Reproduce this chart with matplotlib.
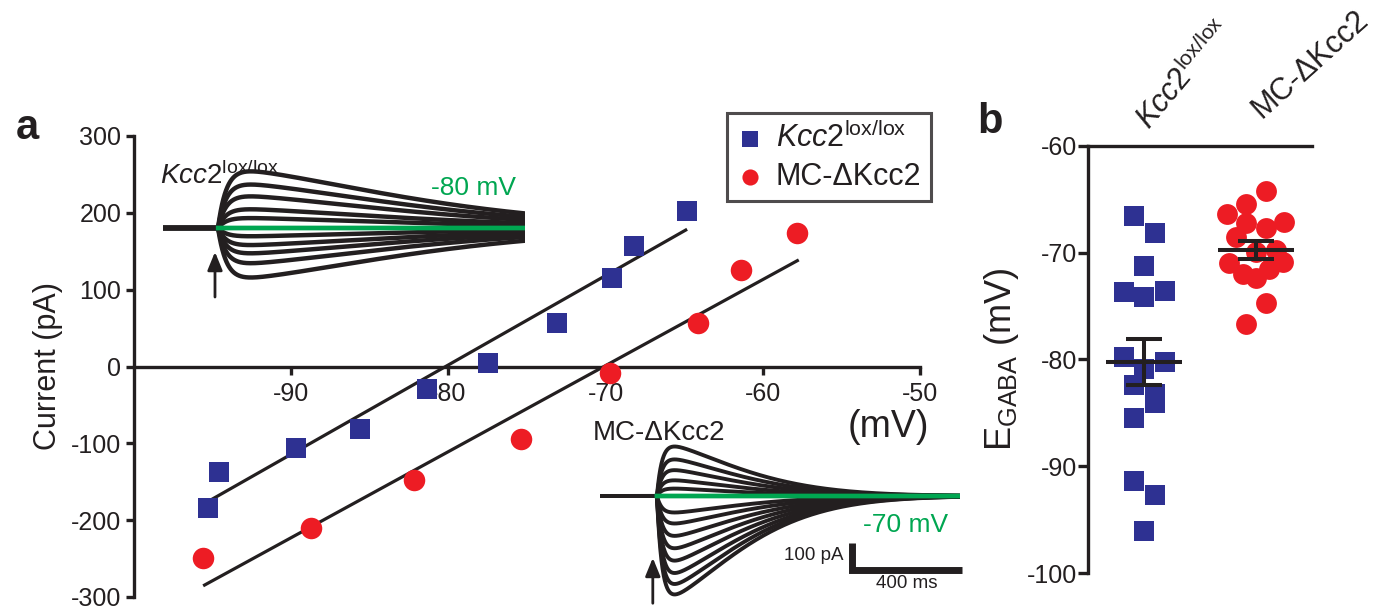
import numpy as np
import matplotlib
matplotlib.use("Agg")
import matplotlib.pyplot as plt

plt.rcParams['font.family'] = ['Liberation Sans', 'DejaVu Sans']
plt.rcParams['mathtext.fontset'] = 'custom'
plt.rcParams['mathtext.rm'] = 'Liberation Sans'
plt.rcParams['mathtext.it'] = 'Liberation Sans:italic'
plt.rcParams['mathtext.bf'] = 'Liberation Sans:bold'
plt.rcParams['axes.unicode_minus'] = False

# ---- data: panel a, I-V relation ----
kcc2_v = [-95.3, -94.6, -89.7, -85.6, -81.35, -77.5, -73.1, -69.6, -68.2, -64.8]
kcc2_i = [-184, -137, -106, -81, -29, 5, 56, 115, 157, 203]
mc_v = [-95.6, -88.7, -82.2, -75.4, -69.7, -64.1, -61.4, -57.8]
mc_i = [-249, -210, -148, -94, -8, 57, 125, 174]
# linear fits: slope (pA/mV), reversal (mV), drawn range (mV)
kcc2_fit = (11.63, -80.17, -95.4, -64.9)
mc_fit = (11.2, -70.1, -95.5, -57.8)

# ---- data: example traces (peak amplitudes in pA) ----
kcc2_trace_amps = [206, 158, 115, 68, 36, -30, -62, -92, -128, -180]
mc_trace_amps = [180, 133, 94, 57, 27, -60, -100, -145, -190, -235, -280, -320, -358]
kcc2_kinetics = (30, 880, 1.5)   # rise tau, decay tau (ms), stretch
mc_kinetics = (18, 385, 1.5)

# ---- data: panel b, E_GABA per cell ----
groups = ['$\\mathit{Kcc2}^{\\mathrm{lox/lox}}$', 'MC-ΔKcc2']
kcc2_egaba = [-66.6, -68.2, -71.3, -73.7, -74.2, -73.6, -79.8, -80.9, -80.2,
              -82.4, -83.2, -84.1, -85.5, -91.4, -92.7, -96.0]
kcc2_jit = [-0.09, 0.095, 0, -0.18, 0, 0.19, -0.18, 0, 0.19, -0.09, 0.095,
            0.095, -0.09, -0.09, 0.095, 0]
mc_egaba = [-64.2, -65.45, -66.4, -67.2, -67.1, -67.7, -68.5, -69.9, -69.8,
            -71.0, -70.9, -72.0, -71.5, -72.35, -74.75, -76.7]
mc_jit = [0.09, -0.09, -0.255, -0.09, 0.25, 0.085, -0.18, 0, 0.18, -0.245,
          0.245, -0.12, 0.12, 0, 0.09, -0.09]

BLUE = '#2e3192'
RED = '#ed1c24'
GREEN = '#00a651'
BLACK = '#231f20'

W, H = 1383, 607
fig = plt.figure(figsize=(W / 100, H / 100), dpi=100)


def px_box(x0, y0, x1, y1):
    return [x0 / W, 1 - y1 / H, (x1 - x0) / W, (y1 - y0) / H]


def psc(t, amp, rise, decay, p):
    tt = np.clip(t, 0, None)
    w = (1 - np.exp(-tt / rise)) * np.exp(-(tt / decay) ** p)
    return amp * w / w.max()


ARROW = dict(arrowstyle='-|>,head_width=0.45,head_length=1.1', color=BLACK,
             lw=2.0, shrinkA=0, shrinkB=0)

# ================= panel a =================
ax = fig.add_axes(px_box(133.8, 136, 920, 597))
ax.set_xlim(-100, -50)
ax.set_ylim(-300, 300)
for s in ['top', 'right']:
    ax.spines[s].set_visible(False)
ax.spines['bottom'].set_position(('data', 0))
ax.spines['bottom'].set_bounds(-100, -50)
for s in ['left', 'bottom']:
    ax.spines[s].set_linewidth(2.4)
    ax.spines[s].set_color(BLACK)
ax.set_xticks([-90, -80, -70, -60, -50])
ax.set_yticks(range(-300, 301, 100))
ax.tick_params(axis='both', width=2.4, length=6, color=BLACK, labelsize=18,
               labelcolor=BLACK)
ax.tick_params(axis='x', pad=5)
ax.tick_params(axis='y', pad=3)
ax.set_ylabel('Current (pA)', fontsize=22, color=BLACK, labelpad=6)
ax.text(-52, -79, '(mV)', fontsize=27, color=BLACK, ha='center', va='center')

for fit in (kcc2_fit, mc_fit):
    slope, erev, v0, v1 = fit
    vv = np.array([v0, v1])
    ax.plot(vv, slope * (vv - erev), color=BLACK, lw=2.3, zorder=2.6)

ax.scatter(kcc2_v, kcc2_i, marker='s', s=210, color=BLUE, linewidths=0,
           zorder=3, label=groups[0])
ax.scatter(mc_v, mc_i, marker='o', s=240, color=RED, linewidths=0,
           zorder=3, label=groups[1])

leg = ax.legend(loc='upper left', bbox_to_anchor=(727 / W, 1 - 113 / H),
                bbox_transform=fig.transFigure, fontsize=22, frameon=True,
                fancybox=False, edgecolor=BLACK, scatterpoints=1,
                borderpad=0.3, labelspacing=0.25, handlelength=0.9,
                handletextpad=0.4, borderaxespad=0, markerscale=0.75)
leg.get_frame().set_linewidth(2.2)
for t in leg.get_texts():
    t.set_color(BLACK)

# ---- inset traces: Kcc2 lox/lox ----
ins1 = fig.add_axes(px_box(163, 159.25, 525, 296.75))
ins1.set_xlim(-200, 1116)
ins1.set_ylim(-250, 250)
ins1.axis('off')
t1 = np.linspace(-200, 1116, 1600)
for a in kcc2_trace_amps:
    ins1.plot(t1, psc(t1, a, *kcc2_kinetics), color=BLACK, lw=3.2)
ins1.plot(t1[t1 >= 0], np.zeros((t1 >= 0).sum()), color=GREEN, lw=3.4)
ins1.annotate('', xy=(-11, -87), xytext=(-11, -251), arrowprops=ARROW,
              annotation_clip=False)
ins1.text(-210, 160, '$\\mathit{Kcc2}^{\\mathrm{lox/lox}}$', fontsize=20,
          color=BLACK, ha='left', va='baseline')
ins1.text(1085, 145, '-80 mV', fontsize=19, color=GREEN, ha='right',
          va='center')

# ---- inset traces: MC-dKcc2 ----
ins2 = fig.add_axes(px_box(600, 427.25, 960, 606))
ins2.set_xlim(-207, 1102)
ins2.set_ylim(-400, 250)
ins2.axis('off')
t2 = np.linspace(-207, 1102, 1600)
for a in mc_trace_amps:
    ins2.plot(t2, psc(t2, a, *mc_kinetics), color=BLACK, lw=2.8)
ins2.plot(t2[t2 >= 0], np.zeros((t2 >= 0).sum()), color=GREEN, lw=3.4)
ins2.annotate('', xy=(-15, -225), xytext=(-15, -390), arrowprops=ARROW,
              annotation_clip=False)
ins2.text(-233, 204, 'MC-ΔKcc2', fontsize=20, color=BLACK, ha='left',
          va='baseline')
ins2.text(1060, -105, '-70 mV', fontsize=19, color=GREEN, ha='right',
          va='center')
# scale bar 100 pA / 400 ms
ins2.plot([708, 708, 1108], [-170, -270, -270], color=BLACK, lw=5,
          solid_capstyle='butt', solid_joinstyle='miter', clip_on=False)
ins2.text(680, -218, '100 pA', fontsize=13.5, color=BLACK, ha='right',
          va='center')
ins2.text(908, -318, '400 ms', fontsize=13.5, color=BLACK, ha='center',
          va='center', clip_on=False)

# ================= panel b =================
bx = fig.add_axes(px_box(1088, 145.7, 1312, 573.3))
bx.set_xlim(-0.5, 1.5)
bx.set_ylim(-100, -60)
for s in ['bottom', 'right']:
    bx.spines[s].set_visible(False)
for s in ['left', 'top']:
    bx.spines[s].set_linewidth(2.4)
    bx.spines[s].set_color(BLACK)
bx.set_xticks([])
bx.set_yticks(range(-100, -59, 10))
bx.tick_params(axis='y', width=2.4, length=7, color=BLACK, labelsize=18,
               labelcolor=BLACK, pad=1)
bx.set_ylabel('E$_{\\mathrm{GABA}}$ (mV)', fontsize=26, color=BLACK,
              labelpad=4)

bx.scatter(np.array(kcc2_jit), kcc2_egaba, marker='s', s=215, color=BLUE,
           linewidths=0, zorder=3, clip_on=False)
bx.scatter(1 + np.array(mc_jit), mc_egaba, marker='o', s=225, color=RED,
           linewidths=0, zorder=3, clip_on=False)

for i, vals in enumerate([kcc2_egaba, mc_egaba]):
    vals = np.array(vals)
    m = vals.mean()
    sem = vals.std(ddof=1) / np.sqrt(len(vals))
    bx.hlines(m, i - 0.335, i + 0.335, color=BLACK, lw=2.9, zorder=4)
    bx.errorbar(i, m, yerr=sem, fmt='none', ecolor=BLACK, elinewidth=2.9,
                capsize=13, capthick=2.9, zorder=4)

bx.annotate(groups[0], xy=(0.05, 1), xycoords=bx.get_xaxis_transform(),
            xytext=(0, 11), textcoords='offset points', rotation=50,
            rotation_mode='anchor', ha='left', va='baseline', fontsize=22,
            color=BLACK)
bx.annotate(groups[1], xy=(1.05, 1), xycoords=bx.get_xaxis_transform(),
            xytext=(0, 19), textcoords='offset points', rotation=42,
            rotation_mode='anchor', ha='left', va='baseline', fontsize=22,
            color=BLACK)

# panel letters
fig.text(27 / W, 1 - 128 / H, 'a', fontsize=30, fontweight='bold',
         color=BLACK, ha='center', va='center')
fig.text(990 / W, 1 - 122 / H, 'b', fontsize=30, fontweight='bold',
         color=BLACK, ha='center', va='center')

fig.savefig('out.png', dpi=100)
